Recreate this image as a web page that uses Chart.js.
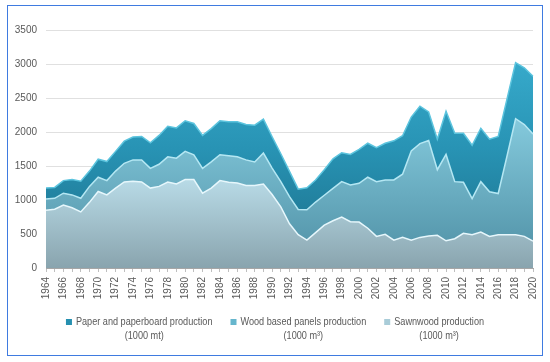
<!DOCTYPE html>
<html>
<head>
<meta charset="utf-8">
<script src="https://cdn.jsdelivr.net/npm/chart.js@4"></script>
<style>
    html, body { margin: 0; padding: 0; background: #fff; }
    #wrap { position: relative; width: 550px; height: 362px; }
    #frame {
        position: absolute; left: 7px; top: 5px; width: 534px; height: 349px;
        border: 1.5px solid #3f7be0; pointer-events: none;
    }
</style>
</head>
<body>
<div id="wrap">
    <canvas id="chart" width="550" height="362"></canvas>
    <div id="frame"></div>
</div>
<script>
const years = [];
for (let y = 1964; y <= 2020; y++) years.push(String(y));

// values (1000 m3 / 1000 mt)
const sawnwood = [
    850, 865, 925, 885, 825, 965, 1125, 1075, 1175, 1265,
    1275, 1265, 1175, 1200, 1265, 1235, 1300, 1300, 1100, 1175,
    1285, 1260, 1250, 1215, 1215, 1235, 1080, 900, 650, 490,
    410, 520, 630, 695, 750, 680, 675, 585, 465, 495,
    410, 450, 410, 450, 470, 480, 400, 430, 510, 490,
    530, 465, 490, 490, 490, 465, 395
];
const panels = [
    165, 160, 175, 190, 200, 235, 210, 210, 250, 275,
    315, 325, 290, 325, 370, 380, 415, 365, 365, 385,
    380, 390, 385, 375, 345, 455, 390, 370, 400, 370,
    445, 450, 440, 475, 520, 540, 570, 750, 805, 800,
    885, 930, 1310, 1380, 1405, 965, 1270, 840, 750, 530,
    740, 655, 605, 1150, 1705, 1645, 1575
];
const paper = [
    160, 160, 185, 225, 250, 225, 265, 280, 290, 325,
    335, 345, 375, 425, 450, 445, 450, 460, 485, 490,
    500, 500, 515, 520, 540, 500, 460, 410, 370, 300,
    325, 325, 375, 435, 425, 450, 500, 500, 500, 540,
    575, 565, 500, 550, 420, 450, 635, 710, 720, 785,
    785, 775, 840, 840, 825, 835, 850
];

const legendTitles = ['Paper and paperboard production', 'Wood based panels production', 'Sawnwood production'];
const legendUnits = ['(1000 mt)', '(1000 m³)', '(1000 m³)'];

const FONT = "'Liberation Sans Narrow', 'Arial Narrow', 'Liberation Sans', Arial, sans-serif";

function vGradient(chart, stops) {
    const { ctx, chartArea } = chart;
    if (!chartArea) return stops[stops.length - 1][1];
    const g = ctx.createLinearGradient(0, chartArea.top, 0, chartArea.bottom);
    stops.forEach(s => g.addColorStop(s[0], s[1]));
    return g;
}

// legend drawn under the axis, two centred lines per item (narrowed like the original font)
const bottomLegend = {
    id: 'bottomLegend',
    afterDraw(chart) {
        const ctx = chart.ctx;
        const items = chart.data.datasets.slice().reverse();
        const squeeze = 0.83;
        ctx.save();
        ctx.font = '11px ' + FONT;
        ctx.textBaseline = 'middle';
        const box = 6, gapBox = 4, gap = 18;
        const widths = items.map((d, i) => box + gapBox + ctx.measureText(legendTitles[i]).width * squeeze);
        const total = widths.reduce((a, b) => a + b, 0) + gap * (items.length - 1);
        let x = (chart.width - total) / 2;
        const y1 = chart.height - 40, y2 = chart.height - 26;
        items.forEach((d, i) => {
            ctx.fillStyle = d.legendColor;
            ctx.fillRect(x, y1 - box / 2, box, box);
            const tx = x + box + gapBox;
            const tw = widths[i] - box - gapBox;
            ctx.fillStyle = '#595959';
            ctx.save();
            ctx.translate(tx, 0);
            ctx.scale(squeeze, 1);
            ctx.textAlign = 'left';
            ctx.fillText(legendTitles[i], 0, y1);
            ctx.textAlign = 'center';
            ctx.fillText(legendUnits[i], tw / 2 / squeeze, y2);
            ctx.restore();
            x += widths[i] + gap;
        });
        ctx.restore();
    }
};

new Chart(document.getElementById('chart'), {
    type: 'line',
    data: {
        labels: years,
        datasets: [
            {
                label: 'Sawnwood production (1000 m³)',
                data: sawnwood,
                fill: 'origin',
                backgroundColor: (c) => vGradient(c.chart, [[0, '#d8f1f9'], [0.6, '#bcdfeb'], [1, '#89a4ae']]),
                borderColor: '#e6f7fc',
                legendColor: '#a9ccd8'
            },
            {
                label: 'Wood based panels production (1000 m³)',
                data: panels,
                fill: '-1',
                backgroundColor: (c) => vGradient(c.chart, [[0, '#9cdaec'], [0.4, '#82c7da'], [1, '#4d8ea3']]),
                borderColor: '#b4e7f3',
                legendColor: '#66b6cd'
            },
            {
                label: 'Paper and paperboard production (1000 mt)',
                data: paper,
                fill: '-1',
                backgroundColor: (c) => vGradient(c.chart, [[0, '#3cb2d3'], [0.5, '#2893b4'], [1, '#1a6c86']]),
                borderColor: '#5cc4de',
                legendColor: '#2690b0'
            }
        ]
    },
    options: {
        responsive: false,
        animation: false,
        layout: { padding: { left: 10, right: 16, top: 30, bottom: 58 } },
        elements: {
            line: { tension: 0, borderWidth: 1.5 },
            point: { radius: 0 }
        },
        plugins: {
            legend: { display: false },
            tooltip: { enabled: false }
        },
        scales: {
            x: {
                offset: false,
                afterFit: (scale) => { scale.height = 36; },
                grid: { drawOnChartArea: false, drawTicks: true, tickLength: 4, color: '#bfbfbf' },
                border: { display: true, color: '#a6a6a6' },
                ticks: {
                    autoSkip: false,
                    minRotation: 90,
                    maxRotation: 90,
                    padding: 5,
                    color: '#595959',
                    font: { family: FONT, size: 10 },
                    callback: (v, i) => (i % 2 === 0 ? years[i] : '')
                }
            },
            y: {
                stacked: true,
                min: 0,
                max: 3500,
                afterFit: (scale) => { scale.width = 36; },
                grid: { color: '#e0e0e0', drawTicks: false },
                border: { display: false },
                ticks: {
                    stepSize: 500,
                    padding: 9,
                    color: '#595959',
                    font: { family: FONT, size: 10 },
                    callback: (v) => String(v)
                }
            }
        }
    },
    plugins: [bottomLegend]
});
</script>
</body>
</html>
